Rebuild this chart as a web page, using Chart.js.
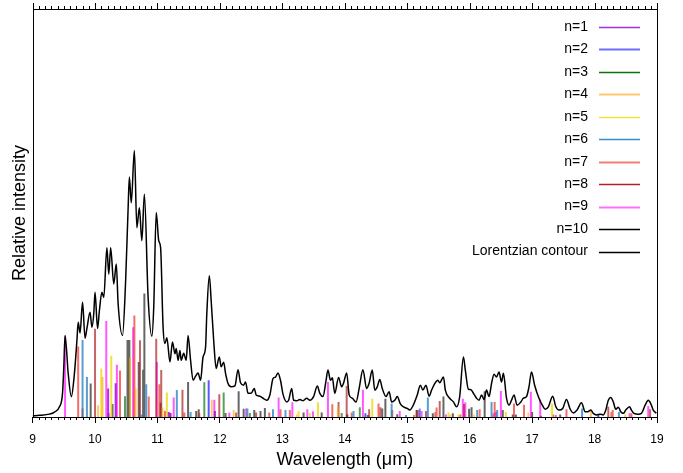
<!DOCTYPE html>
<html>
<head>
<meta charset="utf-8">
<script src="https://cdn.jsdelivr.net/npm/chart.js@4.4.0/dist/chart.umd.min.js"></script>
<style>
html, body { margin: 0; padding: 0; background: #fff; }
#wrap { width: 683px; height: 473px; }
</style>
</head>
<body>
<div id="wrap"><canvas id="grafica"></canvas></div>
<script>
// --- DATA ---
const xTicks = [9, 10, 11, 12, 13, 14, 15, 16, 17, 18, 19];
const legendLabels = ['n=1', 'n=2', 'n=3', 'n=4', 'n=5', 'n=6', 'n=7', 'n=8', 'n=9', 'n=10', 'Lorentzian contour'];

// [wavelength, intensity]
const sticksN1 = [[10.21, 7.0], [10.33, 8.3], [11.18, 1.2], [11.21, 1.0], [11.92, 1.5]];
const sticksN2 = [[11.82, 9.0], [14.33, 0.9], [18.06, 0.6]];
const sticksN3 = [[10.48, 5.1], [11.75, 8.5], [12.06, 6.0], [12.48, 1.0], [13.95, 1.0], [14.24, 2.4]];
const sticksN4 = [[10.05, 2.9], [10.12, 9.8], [10.56, 14.5], [10.65, 7.0], [11.08, 2.3], [11.20, 1.1], [11.87, 4.2],
    [12.22, 1.7], [13.89, 2.4], [15.12, 0.6], [15.69, 0.6], [16.94, 1.1], [17.94, 1.6]];
const sticksN5 = [[10.10, 11.9], [10.26, 15.0], [11.15, 6.0], [13.23, 0.6], [13.26, 1.4], [13.44, 1.0], [13.57, 3.6],
    [14.44, 4.5], [15.66, 1.1], [15.82, 0.6], [16.07, 0.6], [16.58, 1.2], [17.32, 3.3], [18.49, 0.6]];
const sticksN6 = [[9.80, 18.9], [9.87, 9.8], [10.74, 0.6], [10.82, 8.0], [11.31, 6.6], [11.53, 1.2], [12.44, 2.1],
    [12.85, 1.9], [13.05, 1.7], [14.14, 1.5], [14.75, 3.3], [14.98, 0.5], [15.20, 2.1], [15.33, 4.8], [16.12, 1.7],
    [16.35, 3.7], [16.44, 1.7], [17.80, 2.1], [18.39, 1.2]];
const sticksN7 = [[9.73, 17.3], [9.80, 2.1], [10.40, 11.4], [10.63, 24.9], [10.86, 5.0], [11.03, 8.0], [11.12, 1.5],
    [11.43, 1.1], [11.67, 1.0], [12.79, 1.1], [12.97, 1.9], [13.12, 1.7], [13.80, 3.1], [14.11, 1.1], [14.54, 3.3],
    [14.76, 1.7], [15.11, 0.5], [15.45, 1.2], [15.47, 2.3], [15.85, 0.6], [16.16, 1.9], [16.40, 3.7], [16.71, 3.3],
    [16.87, 3.0], [17.34, 0.6], [17.55, 1.9], [18.27, 1.2], [18.29, 1.7], [18.59, 0.9]];
const sticksN8 = [[10.00, 21.6], [10.72, 18.8], [10.98, 19.2], [11.06, 11.5], [11.40, 6.7], [11.99, 5.6], [12.26, 1.1],
    [12.58, 1.1], [13.90, 3.7], [14.03, 7.6], [14.39, 1.9], [14.57, 2.4], [15.16, 1.7], [15.30, 1.5], [15.52, 3.9],
    [15.91, 3.2], [18.22, 2.5], [18.89, 1.9]];
const sticksN9 = [[9.52, 19.8], [10.18, 23.5], [10.22, 1.0], [10.35, 12.8], [10.61, 22.0], [10.99, 13.5], [11.26, 4.8],
    [11.91, 4.2], [12.15, 1.1], [12.42, 2.1], [12.94, 4.8], [13.16, 3.6], [13.40, 1.9], [13.49, 1.4], [13.73, 8.6],
    [14.29, 6.7], [14.88, 1.5], [15.19, 1.7], [15.23, 1.5], [15.62, 0.6], [15.89, 4.5], [15.93, 3.6], [16.38, 0.9],
    [16.42, 1.2], [16.50, 6.4], [16.98, 6.2], [17.13, 4.3], [17.38, 0.5], [18.56, 0.9], [18.86, 2.7]];
const sticksN10 = [[9.93, 8.2], [10.28, 3.2], [10.52, 18.9], [10.55, 18.9], [10.70, 13.5], [10.77, 11.6], [10.79, 30.3],
    [11.05, 3.5], [11.49, 8.6], [11.62, 1.5], [11.66, 1.9], [12.09, 1.0], [12.30, 6.3], [12.38, 2.0], [12.55, 1.7],
    [12.65, 1.5], [12.72, 2.2], [13.34, 1.1], [13.63, 1.1], [14.04, 0.7], [14.37, 0.5], [14.60, 2.1], [14.65, 4.5],
    [14.84, 0.7], [15.15, 1.7], [15.41, 0.9], [15.58, 5.0], [15.73, 0.9], [15.99, 2.0], [16.03, 2.4], [16.24, 6.3],
    [16.53, 1.7], [16.69, 0.6], [16.74, 0.6], [17.00, 1.2], [17.14, 0.3], [17.45, 0.6]];

const contorno = [
    [9.00, 0.3], [9.11, 0.4], [9.27, 0.7], [9.35, 1.2], [9.43, 2.5], [9.48, 5.9], [9.50, 12.3], [9.52, 20.0],
    [9.57, 10.7], [9.62, 5.0], [9.67, 10.7], [9.71, 18.8], [9.73, 23.2], [9.76, 20.6], [9.80, 28.1], [9.84, 19.3],
    [9.87, 21.7], [9.92, 25.7], [9.95, 22.0], [9.98, 25.4], [10.00, 30.6], [10.04, 21.7], [10.07, 26.1], [10.11, 30.6],
    [10.14, 29.3], [10.19, 41.5], [10.22, 35.0], [10.25, 41.5], [10.30, 32.6], [10.34, 37.5], [10.37, 27.7],
    [10.44, 20.0], [10.49, 33.4], [10.53, 51.3], [10.55, 58.8], [10.58, 52.5], [10.63, 65.3], [10.67, 46.4],
    [10.71, 51.3], [10.75, 43.2], [10.79, 54.6], [10.85, 29.3], [10.91, 19.8], [10.94, 26.9], [10.98, 50.1],
    [11.02, 43.2], [11.05, 41.5], [11.09, 22.0], [11.12, 18.0], [11.15, 19.4], [11.20, 13.5], [11.24, 18.4],
    [11.28, 15.5], [11.30, 16.8], [11.33, 13.9], [11.36, 16.3], [11.38, 13.9], [11.42, 15.6], [11.46, 13.9],
    [11.49, 20.0], [11.53, 13.9], [11.57, 9.0], [11.61, 10.0], [11.65, 10.8], [11.69, 9.0], [11.73, 14.7],
    [11.77, 17.1], [11.79, 25.3], [11.83, 34.6], [11.86, 28.5], [11.90, 18.8], [11.94, 11.9], [11.99, 14.7],
    [12.02, 12.3], [12.06, 13.4], [12.09, 10.7], [12.13, 8.2], [12.18, 7.4], [12.24, 7.6], [12.29, 11.6],
    [12.33, 8.4], [12.38, 7.8], [12.41, 8.6], [12.45, 5.8], [12.50, 5.8], [12.55, 7.0], [12.58, 5.4], [12.64, 5.1],
    [12.69, 4.6], [12.75, 4.1], [12.80, 5.4], [12.85, 9.4], [12.89, 9.8], [12.93, 10.8], [12.97, 9.0], [13.01, 5.6],
    [13.07, 3.7], [13.10, 4.1], [13.15, 7.0], [13.18, 4.1], [13.23, 4.0], [13.28, 4.3], [13.33, 4.0], [13.39, 4.6],
    [13.44, 4.1], [13.50, 5.0], [13.56, 7.6], [13.60, 5.8], [13.65, 5.0], [13.70, 9.0], [13.73, 11.5], [13.77, 9.0],
    [13.80, 9.6], [13.84, 5.8], [13.90, 9.7], [13.95, 7.4], [13.98, 8.3], [14.03, 10.8], [14.07, 5.4], [14.12, 4.6],
    [14.18, 3.7], [14.23, 7.0], [14.29, 11.6], [14.35, 7.0], [14.39, 8.3], [14.44, 11.5], [14.48, 6.6], [14.52, 7.4],
    [14.56, 9.2], [14.60, 7.0], [14.66, 5.0], [14.71, 6.2], [14.75, 3.7], [14.80, 4.1], [14.84, 5.0], [14.89, 3.2],
    [14.95, 2.4], [15.00, 2.1], [15.04, 1.7], [15.09, 2.7], [15.16, 5.4], [15.21, 7.8], [15.25, 6.6], [15.30, 7.8],
    [15.35, 5.1], [15.39, 6.6], [15.44, 8.2], [15.49, 9.0], [15.52, 8.4], [15.58, 9.8], [15.61, 6.6], [15.68, 4.6],
    [15.74, 3.7], [15.79, 2.5], [15.84, 5.0], [15.90, 14.7], [15.93, 11.5], [15.98, 6.8], [16.02, 6.7], [16.06, 5.8],
    [16.11, 4.6], [16.15, 4.1], [16.19, 5.4], [16.23, 4.3], [16.27, 6.6], [16.31, 5.0], [16.35, 8.2], [16.39, 10.5],
    [16.43, 9.8], [16.47, 11.0], [16.51, 8.6], [16.54, 10.7], [16.59, 4.6], [16.63, 2.9], [16.67, 4.1], [16.71, 5.4],
    [16.76, 2.9], [16.82, 3.7], [16.86, 4.6], [16.91, 5.0], [16.95, 7.4], [16.99, 11.0], [17.04, 7.8], [17.11, 4.6],
    [17.17, 2.7], [17.21, 1.9], [17.26, 2.5], [17.33, 5.1], [17.38, 2.5], [17.43, 1.7], [17.49, 2.1], [17.55, 4.3],
    [17.61, 1.9], [17.66, 1.0], [17.72, 1.7], [17.79, 3.5], [17.85, 1.3], [17.89, 1.3], [17.94, 1.7], [17.98, 0.9],
    [18.03, 0.5], [18.09, 0.7], [18.14, 0.5], [18.18, 1.7], [18.22, 4.1], [18.26, 4.8], [18.30, 3.7], [18.34, 1.9],
    [18.38, 2.4], [18.42, 1.3], [18.46, 0.9], [18.50, 1.7], [18.56, 2.5], [18.59, 1.7], [18.63, 0.9], [18.70, 0.7],
    [18.75, 0.9], [18.81, 2.9], [18.86, 4.1], [18.90, 3.3], [18.94, 1.7], [18.99, 0.9]
];

// --- ESTILOS ---
const coloresN = [
    'rgba(150, 0, 220, 0.8)',
    'rgba(0, 0, 255, 0.65)',
    'rgba(0, 110, 0, 0.65)',
    'rgba(255, 165, 0, 0.6)',
    'rgba(235, 215, 0, 0.75)',
    'rgba(31, 125, 195, 0.75)',
    'rgba(240, 30, 20, 0.65)',
    'rgba(165, 20, 20, 0.65)',
    'rgba(255, 0, 255, 0.65)',
    'rgba(0, 0, 0, 0.6)'
];
const coloresLeyenda = ['#a030e0', '#6e6eff', '#107010', '#ffc870', '#f0e040', '#3090d0', '#f08070', '#b02020', '#ff70ff', '#000000', '#000000'];
const anchosLeyenda = [1.5, 2, 1.5, 2, 1.5, 1.5, 2, 1.5, 2, 1.3, 1.3];
const FUENTE = "'Liberation Sans', Arial, sans-serif";

function sticksToData(sticks) {
    const out = [];
    sticks.forEach(s => {
        out.push({ x: s[0], y: 0 });
        out.push({ x: s[0], y: s[1] });
        out.push({ x: s[0], y: null });
    });
    return out;
}

const grupos = [sticksN1, sticksN2, sticksN3, sticksN4, sticksN5, sticksN6, sticksN7, sticksN8, sticksN9, sticksN10];

const datasets = [{
    label: legendLabels[10],
    data: contorno.map(p => ({ x: p[0], y: p[1] })),
    borderColor: '#000000',
    borderWidth: 1.5,
    pointRadius: 0,
    cubicInterpolationMode: 'monotone',
    fill: false
}];
grupos.forEach((g, i) => {
    datasets.push({
        label: legendLabels[i],
        data: sticksToData(g),
        borderColor: coloresN[i],
        borderWidth: 2,
        borderCapStyle: 'butt',
        pointRadius: 0,
        spanGaps: false,
        tension: 0,
        fill: false
    });
});

// --- PLUGIN: marco, ticks menores y leyenda ---
const marcoPlugin = {
    id: 'marco',
    afterDraw(chart) {
        const ctx = chart.ctx;
        const a = chart.chartArea;
        const sx = chart.scales.x;
        ctx.save();
        ctx.strokeStyle = '#000';
        ctx.lineWidth = 1;
        ctx.strokeRect(Math.round(a.left) + 0.5, Math.round(a.top) + 0.5, Math.round(a.right - a.left), Math.round(a.bottom - a.top));

        ctx.beginPath();
        for (let i = 0; i <= 100; i++) {
            const v = 9 + i / 10;
            const px = Math.round(sx.getPixelForValue(v)) + 0.5;
            const mayor = i % 10 === 0;
            if (!mayor) {
                ctx.moveTo(px, a.bottom);
                ctx.lineTo(px, a.bottom + 3);
            }
            ctx.moveTo(px, a.top);
            ctx.lineTo(px, a.top - (mayor ? 6 : 3));
        }
        ctx.stroke();

        // leyenda
        ctx.font = '14px ' + FUENTE;
        ctx.textAlign = 'right';
        ctx.textBaseline = 'middle';
        legendLabels.forEach((lab, i) => {
            const y = a.top + 18 + i * 22.45;
            ctx.fillStyle = '#000';
            ctx.fillText(lab, a.right - 69, y);
            ctx.beginPath();
            ctx.strokeStyle = coloresLeyenda[i];
            ctx.lineWidth = anchosLeyenda[i];
            ctx.moveTo(a.right - 58, Math.round(y) + 0.5);
            ctx.lineTo(a.right - 17, Math.round(y) + 0.5);
            ctx.stroke();
        });
        ctx.restore();
    }
};

new Chart(document.getElementById('grafica').getContext('2d'), {
    type: 'line',
    data: { datasets: datasets },
    options: {
        responsive: true,
        maintainAspectRatio: false,
        animation: false,
        devicePixelRatio: 1,
        layout: { padding: { left: 3, right: 26, top: 9, bottom: 2 } },
        plugins: { legend: { display: false }, tooltip: { enabled: false } },
        scales: {
            x: {
                type: 'linear',
                min: 9,
                max: 19,
                afterBuildTicks: (scale) => { scale.ticks = xTicks.map(v => ({ value: v })); },
                ticks: { color: '#000', font: { family: FUENTE, size: 12 }, padding: 9, maxRotation: 0 },
                grid: { drawOnChartArea: false, color: '#000', tickLength: 6 },
                border: { color: '#000' },
                title: { display: true, text: 'Wavelength (\u03bcm)', color: '#000', font: { family: FUENTE, size: 18 }, padding: { top: -6, bottom: 0 } }
            },
            y: {
                type: 'linear',
                min: 0,
                max: 100,
                ticks: { display: false },
                grid: { display: false, drawTicks: false },
                border: { display: false },
                title: { display: true, text: 'Relative intensity', color: '#000', font: { family: FUENTE, size: 18 }, padding: { top: 6, bottom: 2 } }
            }
        }
    },
    plugins: [marcoPlugin]
});
</script>
</body>
</html>
